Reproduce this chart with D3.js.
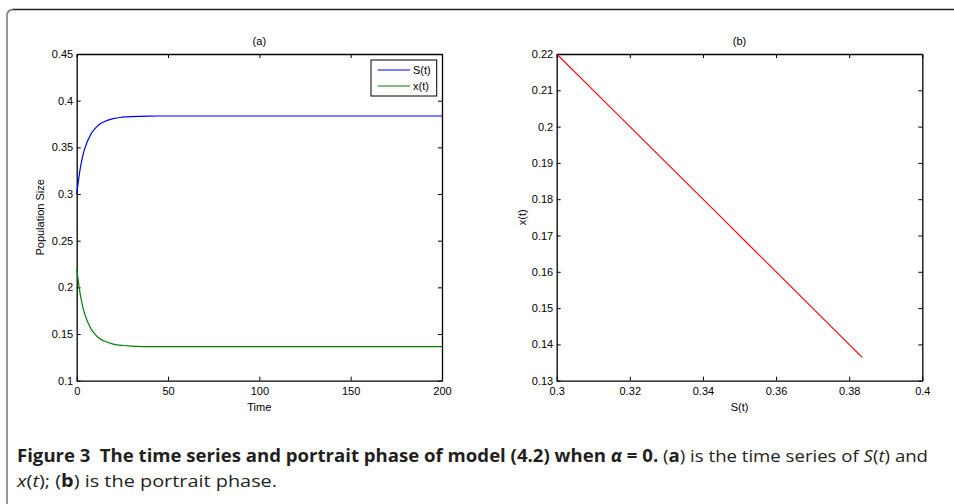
<!DOCTYPE html>
<html>
<head>
<meta charset="utf-8">
<script src="https://cdn.jsdelivr.net/npm/d3@7/dist/d3.min.js"></script>
<style>
body { margin: 0; background: #fff; }
text { font-family: "Liberation Sans", Arial, sans-serif; }
text.cap { font-family: "Open Sans", "Noto Sans", sans-serif; }
</style>
</head>
<body>
<div id="chart"></div>
<script>
// time points and the two series
var time = [0, 1, 2, 3, 4, 5, 6, 7, 8, 10, 12, 15, 20, 25, 30, 40, 50, 75, 100, 125, 150, 175, 200];
var S = [0.300, 0.315, 0.328, 0.338, 0.346, 0.352, 0.357, 0.361, 0.365, 0.370, 0.374, 0.3775, 0.3808, 0.3823, 0.3830, 0.3835, 0.3836, 0.3836, 0.3836, 0.3836, 0.3836, 0.3836, 0.3836];
var X = [0.220, 0.205, 0.192, 0.182, 0.174, 0.168, 0.163, 0.159, 0.155, 0.150, 0.146, 0.1425, 0.1392, 0.1377, 0.1370, 0.1365, 0.1364, 0.1364, 0.1364, 0.1364, 0.1364, 0.1364, 0.1364];

var seriesNames = ["S(t)", "x(t)"];

var aTicksX = [0, 50, 100, 150, 200];
var aTicksY = [0.1, 0.15, 0.2, 0.25, 0.3, 0.35, 0.4, 0.45];
var bTicksX = [0.3, 0.32, 0.34, 0.36, 0.38, 0.4];
var bTicksY = [0.13, 0.14, 0.15, 0.16, 0.17, 0.18, 0.19, 0.2, 0.21, 0.22];

var width = 954;
var height = 504;

var svg = d3.select('#chart')
    .append('svg')
        .attr('width', width)
        .attr('height', height);

// frame of the figure box
svg.append('path')
    .attr('d', 'M7,504 L7,16 Q7,9.5 13.5,9.5')
    .attr('fill', 'none')
    .attr('stroke', '#8c8c8c')
    .attr('stroke-width', 1.8);
svg.append('line')
    .attr('x1', 13).attr('x2', width)
    .attr('y1', 9.5).attr('y2', 9.5)
    .attr('stroke', '#222')
    .attr('stroke-width', 1.3);

var fmt = function(d) { return String(+d.toFixed(2)); };

function panel(left, right, top, bottom, xDom, yDom, xTicks, yTicks, title, xLabel, yLabel, yLabelX) {
    var x = d3.scaleLinear().domain(xDom).range([left, right]);
    var y = d3.scaleLinear().domain(yDom).range([bottom, top]);
    var g = svg.append('g');

    g.append('g')
        .attr('transform', 'translate(0,' + bottom + ')')
        .call(d3.axisBottom(x).tickValues(xTicks).tickSize(-4).tickSizeOuter(0).tickPadding(7).tickFormat(fmt));
    g.append('g')
        .attr('transform', 'translate(0,' + top + ')')
        .call(d3.axisTop(x).tickValues(xTicks).tickSize(-4).tickSizeOuter(0).tickFormat(''));
    g.append('g')
        .attr('transform', 'translate(' + left + ',0)')
        .call(d3.axisLeft(y).tickValues(yTicks).tickSize(-4).tickSizeOuter(0).tickPadding(3.5).tickFormat(fmt));
    g.append('g')
        .attr('transform', 'translate(' + right + ',0)')
        .call(d3.axisRight(y).tickValues(yTicks).tickSize(-4).tickSizeOuter(0).tickFormat(''));

    g.selectAll('.domain').attr('stroke', '#000').attr('stroke-width', 1.3);
    g.selectAll('.tick line').attr('stroke', '#000');
    g.selectAll('.tick text').attr('font-size', 11).attr('fill', '#000');

    g.append('text')
        .attr('x', (left + right) / 2).attr('y', 45)
        .attr('text-anchor', 'middle').attr('font-size', 11)
        .text(title);
    g.append('text')
        .attr('x', (left + right) / 2).attr('y', 411)
        .attr('text-anchor', 'middle').attr('font-size', 11)
        .text(xLabel);
    g.append('text')
        .attr('transform', 'translate(' + yLabelX + ',' + ((top + bottom) / 2) + ') rotate(-90)')
        .attr('text-anchor', 'middle').attr('font-size', 11)
        .text(yLabel);
    return {x: x, y: y, g: g};
}

// panel (a): time series
var pa = panel(76.7, 442, 54, 380.7, [0, 200], [0.1, 0.45], aTicksX, aTicksY, '(a)', 'Time', 'Population Size', 44);

var lineA = function(vals) {
    return d3.line()
        .x(function(d, i) { return pa.x(time[i]); })
        .y(function(d) { return pa.y(d); })
        .curve(d3.curveMonotoneX)(vals);
};
pa.g.append('path').attr('d', lineA(S)).attr('fill', 'none').attr('stroke', '#0000ff').attr('stroke-width', 1.2);
pa.g.append('path').attr('d', lineA(X)).attr('fill', 'none').attr('stroke', '#008000').attr('stroke-width', 1.2);

// legend
var legendColors = ['#0000ff', '#008000'];
pa.g.append('rect')
    .attr('x', 371).attr('y', 60).attr('width', 65.7).attr('height', 36)
    .attr('fill', '#fff').attr('stroke', '#000').attr('stroke-width', 1);
var legend = pa.g.selectAll('.legend')
    .data(seriesNames)
    .enter()
        .append('g')
        .attr('class', 'legend')
        .attr('transform', function(d, i) { return 'translate(0,' + (70 + i * 16) + ')'; });
legend.append('line')
    .attr('x1', 377.7).attr('x2', 410)
    .attr('stroke', function(d, i) { return legendColors[i]; })
    .attr('stroke-width', 1.2);
legend.append('text')
    .attr('x', 413).attr('y', 4)
    .attr('font-size', 11)
    .text(function(d) { return d; });

// panel (b): portrait phase
var pb = panel(556.7, 922.3, 54, 380.7, [0.3, 0.4], [0.13, 0.22], bTicksX, bTicksY, '(b)', 'S(t)', 'x(t)', 525.5);
var lineB = d3.line()
    .x(function(d) { return pb.x(d); })
    .y(function(d, i) { return pb.y(X[i]); });
pb.g.append('path').attr('d', lineB(S)).attr('fill', 'none').attr('stroke', '#ff0000').attr('stroke-width', 1.1);

// caption
var cap = svg.append('g').attr('fill', '#231f20');
var l1 = cap.append('text').attr('class', 'cap').attr('x', 17).attr('y', 462).attr('font-size', 17)
    .attr('textLength', 911).attr('lengthAdjust', 'spacingAndGlyphs');
l1.append('tspan').attr('font-weight', 'bold').text('Figure 3\u2002The time series and portrait phase of model (4.2) when ');
l1.append('tspan').attr('font-weight', 'bold').attr('font-style', 'italic').text('α');
l1.append('tspan').attr('font-weight', 'bold').text(' = 0.');
l1.append('tspan').text(' (');
l1.append('tspan').attr('font-weight', 'bold').text('a');
l1.append('tspan').text(') is the time series of ');
l1.append('tspan').attr('font-style', 'italic').text('S');
l1.append('tspan').text('(');
l1.append('tspan').attr('font-style', 'italic').text('t');
l1.append('tspan').text(') and');

var l2 = cap.append('text').attr('class', 'cap').attr('x', 17).attr('y', 487).attr('font-size', 17)
    .attr('textLength', 260).attr('lengthAdjust', 'spacingAndGlyphs');
l2.append('tspan').attr('font-style', 'italic').text('x');
l2.append('tspan').text('(');
l2.append('tspan').attr('font-style', 'italic').text('t');
l2.append('tspan').text('); (');
l2.append('tspan').attr('font-weight', 'bold').text('b');
l2.append('tspan').text(') is the portrait phase.');
</script>
</body>
</html>
